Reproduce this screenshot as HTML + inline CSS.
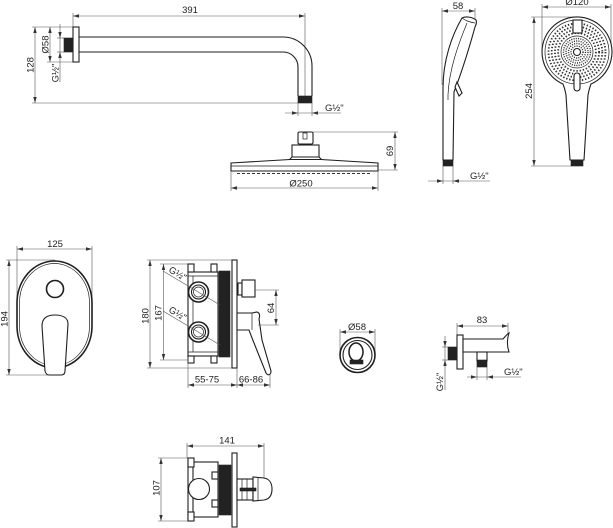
<!DOCTYPE html>
<html><head><meta charset="utf-8"><style>
html,body{margin:0;padding:0;background:#fff;}
svg{display:block;}
text{font-family:"Liberation Sans",sans-serif;font-size:9.5px;fill:#222;}
.o{fill:none;stroke:#1e1e1e;stroke-width:1.1;}
.w{fill:#fff;stroke:#1e1e1e;stroke-width:1.1;}
.t{fill:none;stroke:#1e1e1e;stroke-width:0.7;}
.d{fill:none;stroke:#555;stroke-width:0.6;}
.m{fill:none;stroke:#555;stroke-width:0.6;marker-start:url(#a);marker-end:url(#a);}
.k{fill:#222;stroke:#222;stroke-width:0.6;}
.ah{fill:#333;}
.dt{fill:none;stroke:#333;stroke-width:1.8;stroke-dasharray:1.4 1.8;}
.di{fill:none;stroke:#333;stroke-width:1.4;stroke-dasharray:1.1 1.2;}
</style></head><body>
<svg width="613" height="528" viewBox="0 0 613 528" xmlns="http://www.w3.org/2000/svg">
<defs><marker id="a" markerWidth="6" markerHeight="4" refX="6" refY="2" orient="auto-start-reverse" markerUnits="userSpaceOnUse"><path d="M0,0.3 L6,2 L0,3.7z" fill="#333"/></marker></defs>

<!-- ===== Shower arm ===== -->
<line class="m" x1="73" y1="16" x2="305" y2="16"/>
<line class="d" x1="73" y1="13" x2="73" y2="27"/>
<line class="d" x1="305" y1="13" x2="305" y2="96"/>
<text x="190" y="13" text-anchor="middle">391</text>

<line class="m" x1="35" y1="27" x2="35" y2="103"/>
<line class="d" x1="32" y1="27" x2="73" y2="27"/>
<line class="d" x1="32" y1="103" x2="298" y2="103"/>
<text transform="translate(33.5,65) rotate(-90)" text-anchor="middle">128</text>

<line class="m" x1="50" y1="27" x2="50" y2="62"/>
<line class="d" x1="47" y1="62" x2="73" y2="62"/>
<text transform="translate(48.5,44.5) rotate(-90)" text-anchor="middle">Ø58</text>

<line class="d" x1="60" y1="24" x2="60" y2="82"/>
<line class="d" x1="57" y1="38" x2="64" y2="38"/>
<line class="d" x1="57" y1="52" x2="64" y2="52"/>
<path class="ah" d="M58.3,32 L60,38 L61.7,32z"/>
<path class="ah" d="M58.3,58 L60,52 L61.7,58z"/>
<text transform="translate(58.5,73) rotate(-90)" text-anchor="middle">G½"</text>

<rect class="w" x="73" y="27" width="6" height="35"/>
<rect class="k" x="64" y="38" width="9" height="14"/>
<path class="o" d="M79,37 H283 A29,29 0 0 1 312,66 V96"/>
<path class="o" d="M79,52 H283 A15,15 0 0 1 298,67 V96"/>
<rect class="k" x="298" y="96" width="14" height="7"/>

<line class="d" x1="298" y1="103" x2="298" y2="116"/>
<line class="d" x1="312" y1="103" x2="312" y2="116"/>
<line class="d" x1="285" y1="113" x2="341" y2="113"/>
<path class="ah" d="M292,111.3 L298,113 L292,114.7z"/>
<path class="ah" d="M318,111.3 L312,113 L318,114.7z"/>
<text x="325" y="111">G½"</text>

<!-- ===== Rain head ===== -->
<rect class="w" x="298" y="132" width="15" height="12" rx="1.5"/>
<rect class="t" x="303" y="133" width="4" height="6"/>
<rect class="w" x="292" y="145" width="27" height="13"/>
<path class="w" d="M289,160 L292,157 L319,157 L322,160 Z"/>
<path class="w" d="M231,163 L290,159.5 L321,159.5 L378,163 L378,171 L231,171 Z"/>
<line class="t" x1="231" y1="166" x2="378" y2="166"/>
<line x1="237" y1="173.5" x2="372" y2="173.5" stroke="#333" stroke-width="1" stroke-dasharray="3 2"/>

<line class="m" x1="231" y1="188" x2="378" y2="188"/>
<line class="d" x1="231" y1="171" x2="231" y2="191"/>
<line class="d" x1="378" y1="171" x2="378" y2="191"/>
<text x="301" y="186.5" text-anchor="middle">Ø250</text>

<line class="m" x1="395" y1="132" x2="395" y2="170"/>
<line class="d" x1="313" y1="132" x2="398" y2="132"/>
<line class="d" x1="378" y1="170" x2="398" y2="170"/>
<text transform="translate(393,151) rotate(-90)" text-anchor="middle">69</text>

<!-- ===== Hand shower side ===== -->
<line class="m" x1="442" y1="11" x2="475" y2="11"/>
<line class="d" x1="442" y1="8" x2="442" y2="85"/>
<line class="d" x1="475" y1="8" x2="475" y2="22"/>
<text x="458" y="9" text-anchor="middle">58</text>

<path class="w" d="M443,160 L443,88 C443,60 452,35 462,18 C466,16 472,17 476,20 C477,22 476,25 475,27 C470,45 464,65 457,84 L454,92 L453,160 Z"/>
<path class="t" d="M467,23 C458,45 449,70 448,95 L448,100"/>
<path class="t" d="M462,18 C465,20 468,22 475,23"/>
<path class="w" d="M457,82 L462,93 L459,96 L455,87 Z"/>
<rect class="k" x="443" y="160" width="10" height="6"/>

<line class="d" x1="443" y1="166" x2="443" y2="184"/>
<line class="d" x1="453" y1="166" x2="453" y2="184"/>
<line class="d" x1="428" y1="181" x2="490" y2="181"/>
<path class="ah" d="M437,179.3 L443,181 L437,182.7z"/>
<path class="ah" d="M459,179.3 L453,181 L459,182.7z"/>
<text x="470" y="179">G½"</text>

<!-- ===== Hand shower front ===== -->
<line class="m" x1="542" y1="7" x2="611" y2="7"/>
<line class="d" x1="542" y1="4" x2="542" y2="50"/>
<line class="d" x1="611" y1="4" x2="611" y2="50"/>
<text x="577" y="5" text-anchor="middle">Ø120</text>

<line class="m" x1="534" y1="17" x2="534" y2="166"/>
<line class="d" x1="531" y1="17" x2="577" y2="17"/>
<line class="d" x1="531" y1="166" x2="571" y2="166"/>
<text transform="translate(532,91) rotate(-90)" text-anchor="middle">254</text>

<path class="w" d="M570,160 L566,95 Q565,89 563,84 A35,35 0 1 1 591,84 Q589,89 588,95 L584,160 Z" stroke-width="1.4"/>
<circle class="t" cx="577" cy="52" r="32"/>
<circle class="dt" cx="577" cy="52" r="28.5"/>
<circle class="dt" cx="577" cy="52" r="25.3"/>
<circle class="dt" cx="577" cy="52" r="22.1"/>
<circle class="dt" cx="577" cy="52" r="18.9"/>
<circle class="t" cx="577" cy="52" r="16"/>
<circle class="di" cx="577" cy="52" r="13.5"/>
<circle class="di" cx="577" cy="52" r="11"/>
<circle class="di" cx="577" cy="52" r="8.5"/>
<circle class="di" cx="577" cy="52" r="6"/>
<circle class="o" cx="577" cy="52" r="3.5"/>
<rect class="w" x="573" y="20" width="9" height="13"/>
<rect class="w" x="574" y="73" width="6" height="18" rx="3"/>
<rect class="k" x="571" y="160" width="12" height="6"/>

<!-- ===== Mixer plate ===== -->
<line class="m" x1="17" y1="249" x2="92" y2="249"/>
<line class="d" x1="17" y1="246" x2="17" y2="300"/>
<line class="d" x1="92" y1="246" x2="92" y2="300"/>
<text x="55" y="247" text-anchor="middle">125</text>

<line class="m" x1="9" y1="260" x2="9" y2="375"/>
<line class="d" x1="6" y1="260" x2="55" y2="260"/>
<line class="d" x1="6" y1="375" x2="48" y2="375"/>
<text transform="translate(7.5,319) rotate(-90)" text-anchor="middle">194</text>

<rect x="17" y="261" width="75" height="107" rx="37.5" ry="42" fill="#fff" stroke="#1e1e1e" stroke-width="1.6"/>
<rect class="t" x="19.5" y="263.5" width="70" height="102" rx="35" ry="39.5"/>
<circle cx="55" cy="289" r="8.5" fill="none" stroke="#1e1e1e" stroke-width="1.6"/>
<path class="w" d="M42,326 C42,318 47,315 55,315 C63,315 68,318 68,324 L65,371 C65,374 63,375 61,375 L49,375 C47,375 46,374 45,371 Z" stroke-width="1.4"/>

<!-- ===== Valve side ===== -->
<line class="m" x1="150" y1="260" x2="150" y2="368"/>
<line class="d" x1="147" y1="260" x2="233" y2="260"/>
<line class="d" x1="147" y1="368" x2="233" y2="368"/>
<text transform="translate(148.5,316) rotate(-90)" text-anchor="middle">180</text>

<line class="m" x1="163.5" y1="264" x2="163.5" y2="360"/>
<line class="d" x1="160" y1="264" x2="188" y2="264"/>
<line class="d" x1="160" y1="360" x2="188" y2="360"/>
<text transform="translate(161.5,313) rotate(-90)" text-anchor="middle">167</text>

<rect class="w" x="188" y="272" width="30" height="84"/>
<line class="t" x1="188" y1="276" x2="218" y2="276"/>
<line class="t" x1="188" y1="352" x2="218" y2="352"/>
<line class="t" x1="193" y1="276" x2="193" y2="352"/>
<rect class="w" x="188" y="264" width="6" height="8"/>
<rect class="w" x="211" y="264" width="6" height="8"/>
<rect class="w" x="188" y="356" width="6" height="7"/>
<rect class="w" x="211" y="356" width="6" height="7"/>
<rect class="k" x="219" y="271" width="11" height="86"/>
<rect class="w" x="232" y="260" width="5" height="108"/>

<circle cx="198.5" cy="292" r="10" fill="#fff" stroke="#1e1e1e" stroke-width="1.6"/>
<circle class="o" cx="198.5" cy="292" r="7"/>
<circle class="t" cx="198.5" cy="292" r="5"/>
<circle cx="198.5" cy="332" r="10" fill="#fff" stroke="#1e1e1e" stroke-width="1.6"/>
<circle class="o" cx="198.5" cy="332" r="7"/>
<circle class="t" cx="198.5" cy="332" r="5"/>
<line class="d" x1="163" y1="271" x2="220" y2="305"/>
<line class="d" x1="163" y1="311" x2="220" y2="345"/>
<text transform="translate(168,271.5) rotate(31)">G½"</text>
<text transform="translate(168,311.5) rotate(31)">G½"</text>

<rect class="w" x="238" y="283" width="4" height="12"/>
<rect class="w" x="242" y="280" width="13" height="17"/>
<path class="w" d="M237,313 L252,313 L257,312 C260,313 260,316 259,319 L262,340 L271,371 C271,375 268,376 266,373 L252,338 L249,330 L237,330 Z"/>
<line class="t" x1="252" y1="313" x2="252" y2="330"/>

<line class="m" x1="276" y1="290" x2="276" y2="325"/>
<line class="d" x1="255" y1="290" x2="279" y2="290"/>
<line class="d" x1="258" y1="325" x2="279" y2="325"/>
<text transform="translate(274,308) rotate(-90)" text-anchor="middle">64</text>

<line class="m" x1="188" y1="385" x2="237" y2="385"/>
<line class="m" x1="237" y1="385" x2="270" y2="385"/>
<line class="d" x1="188" y1="357" x2="188" y2="388"/>
<line class="d" x1="237" y1="368" x2="237" y2="388"/>
<line class="d" x1="270" y1="375" x2="270" y2="388"/>
<text x="207" y="382.5" text-anchor="middle">55-75</text>
<text x="251" y="382.5" text-anchor="middle">66-86</text>

<!-- ===== Round outlet ===== -->
<line class="m" x1="340" y1="332" x2="375" y2="332"/>
<line class="d" x1="340" y1="329" x2="340" y2="355"/>
<line class="d" x1="375" y1="329" x2="375" y2="355"/>
<text x="357" y="330" text-anchor="middle">Ø58</text>
<circle cx="357.5" cy="355" r="17.5" fill="#fff" stroke="#1e1e1e" stroke-width="1.6"/>
<circle class="o" cx="357.5" cy="355" r="14.5"/>
<ellipse cx="356" cy="352" rx="7" ry="9" fill="none" stroke="#1e1e1e" stroke-width="1.5"/>
<rect class="k" x="350" y="360" width="13" height="4"/>

<!-- ===== Wall holder ===== -->
<line class="m" x1="457" y1="326" x2="508" y2="326"/>
<line class="d" x1="457" y1="323" x2="457" y2="335"/>
<line class="d" x1="508" y1="323" x2="508" y2="334"/>
<text x="482" y="323" text-anchor="middle">83</text>

<rect class="w" x="457" y="335" width="6" height="34"/>
<rect class="k" x="448" y="347" width="9" height="13"/>
<path class="w" d="M463,339 L503,339 C505,337 507,334 509,333 C507,339 507,346 509,352 L463,352 Z"/>
<rect class="w" x="477" y="352" width="10" height="9"/>
<rect class="k" x="477" y="360" width="10" height="7"/>

<line class="d" x1="477" y1="367" x2="477" y2="380"/>
<line class="d" x1="487" y1="367" x2="487" y2="380"/>
<line class="d" x1="467" y1="377" x2="521" y2="377"/>
<path class="ah" d="M471,375.3 L477,377 L471,378.7z"/>
<path class="ah" d="M493,375.3 L487,377 L493,378.7z"/>
<text x="504" y="375">G½"</text>

<line class="d" x1="445" y1="336" x2="445" y2="390"/>
<line class="d" x1="442" y1="347" x2="448" y2="347"/>
<line class="d" x1="442" y1="360" x2="448" y2="360"/>
<path class="ah" d="M443.3,341 L445,347 L446.7,341z"/>
<path class="ah" d="M443.3,366 L445,360 L446.7,366z"/>
<text transform="translate(443,382) rotate(-90)" text-anchor="middle">G½"</text>

<!-- ===== Valve top ===== -->
<line class="m" x1="187" y1="446" x2="264" y2="446"/>
<line class="d" x1="187" y1="443" x2="187" y2="458"/>
<line class="d" x1="264" y1="443" x2="264" y2="478"/>
<text x="227" y="443.5" text-anchor="middle">141</text>

<line class="m" x1="161" y1="458" x2="161" y2="521"/>
<line class="d" x1="158" y1="458" x2="188" y2="458"/>
<line class="d" x1="158" y1="521" x2="188" y2="521"/>
<text transform="translate(159.5,488) rotate(-90)" text-anchor="middle">107</text>

<line class="o" x1="188" y1="458" x2="188" y2="521"/>
<rect class="w" x="193" y="462" width="25" height="55"/>
<rect class="w" x="188" y="458" width="6" height="9"/>
<rect class="w" x="188" y="512" width="6" height="9"/>
<rect class="w" x="212" y="472" width="6" height="7"/>
<rect class="w" x="212" y="500" width="6" height="7"/>
<circle class="w" cx="199" cy="489" r="10.5"/>
<rect class="k" x="219" y="465" width="12" height="50"/>
<rect class="w" x="232" y="453" width="5" height="74"/>

<rect class="w" x="237" y="479" width="16" height="21"/>
<line class="t" x1="242" y1="479" x2="242" y2="500"/>
<line class="t" x1="247" y1="479" x2="247" y2="500"/>
<path class="w" d="M253,477 L264,478 C270,479 272,484 272,489 C272,495 270,499 264,500 L253,501 Z"/>
<line class="t" x1="258" y1="478" x2="258" y2="500"/>
<rect class="k" x="240" y="488" width="16" height="3"/>
</svg>
</body></html>
